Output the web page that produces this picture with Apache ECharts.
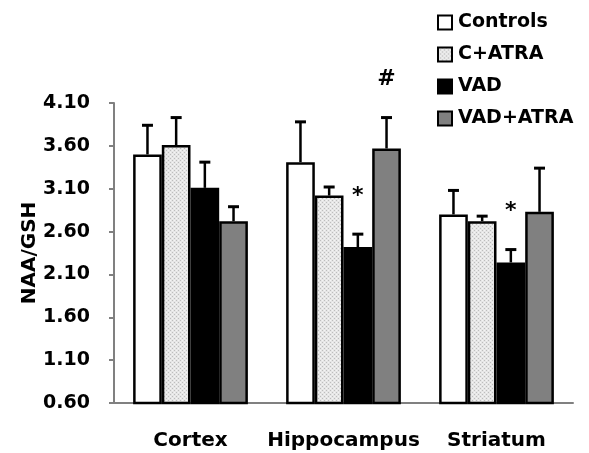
<!DOCTYPE html>
<html>
<head>
<meta charset="utf-8">
<script src="https://cdn.jsdelivr.net/npm/echarts@6/dist/echarts.min.js"></script>
<style>
  html, body { margin: 0; padding: 0; background: #fff; }
  #chart { width: 589px; height: 453px; }
</style>
</head>
<body>
<div id="chart"></div>
<script>
const regions = ['Cortex', 'Hippocampus', 'Striatum']
const groups = ['Controls', 'C+ATRA', 'VAD', 'VAD+ATRA']

// mean values per group (Cortex, Hippocampus, Striatum)
const controls = [3.50, 3.41, 2.80]
const cAtra = [3.61, 3.02, 2.72]
const vad = [3.11, 2.42, 2.24]
const vadAtra = [2.72, 3.57, 2.83]

// upper error bar length
const controlsErr = [0.34, 0.47, 0.28]
const cAtraErr = [0.32, 0.10, 0.06]
const vadErr = [0.30, 0.15, 0.15]
const vadAtraErr = [0.17, 0.36, 0.51]

const yTicks = [0.60, 1.10, 1.60, 2.10, 2.60, 3.10, 3.60, 4.10]

// significance marks: [region index, group index, symbol]
const marks = [
  [1, 2, '*'],
  [1, 3, '#'],
  [2, 2, '*']
]

const FONT = 'DejaVu Sans'

// light dotted fill for C+ATRA
function dotPattern() {
  const c = document.createElement('canvas')
  c.width = 4
  c.height = 4
  const ctx = c.getContext('2d')
  ctx.fillStyle = '#e6e6e6'
  ctx.fillRect(0, 0, 4, 4)
  ctx.fillStyle = '#bdbdbd'
  ctx.fillRect(0, 0, 1, 1)
  ctx.fillRect(2, 2, 1, 1)
  ctx.fillStyle = '#f4f4f4'
  ctx.fillRect(2, 0, 1, 1)
  ctx.fillRect(0, 2, 1, 1)
  return { image: c, repeat: 'repeat' }
}

const fills = ['#ffffff', dotPattern(), '#000000', '#808080']
const means = [controls, cAtra, vad, vadAtra]
const errs = [controlsErr, cAtraErr, vadErr, vadAtraErr]
const catGap = 0.25

function barOffset(api, gi) {
  const catW = api.size([1, 0])[0]
  const barW = catW * (1 - catGap) / groups.length
  return { x: (gi - (groups.length - 1) / 2) * barW, w: barW }
}

const barSeries = groups.map((name, gi) => ({
  name,
  type: 'bar',
  data: means[gi],
  barGap: '0%',
  barCategoryGap: catGap * 100 + '%',
  itemStyle: { color: fills[gi], borderColor: '#000', borderWidth: 2.5 },
  z: 2
}))

const errSeries = groups.map((name, gi) => ({
  type: 'custom',
  name: name + ' err',
  data: regions.map((r, ri) => [ri, means[gi][ri], errs[gi][ri]]),
  z: 3,
  silent: true,
  renderItem(params, api) {
    const off = barOffset(api, gi)
    const base = api.coord([api.value(0), api.value(1)])
    const top = api.coord([api.value(0), api.value(1) + api.value(2)])
    const x = base[0] + off.x
    return {
      type: 'group',
      children: [
        { type: 'line', shape: { x1: x, y1: base[1], x2: x, y2: top[1] }, style: { stroke: '#000', lineWidth: 2.5 } },
        { type: 'line', shape: { x1: x - 5.5, y1: top[1], x2: x + 5.5, y2: top[1] }, style: { stroke: '#000', lineWidth: 3 } }
      ]
    }
  }
}))

const markSeries = {
  type: 'custom',
  name: 'marks',
  data: marks.map(m => [m[0], means[m[1]][m[0]] + errs[m[1]][m[0]], m[1], m[2]]),
  z: 4,
  silent: true,
  renderItem(params, api) {
    const m = marks[params.dataIndex]
    const off = barOffset(api, m[1])
    const top = api.coord([api.value(0), api.value(1)])
    return {
      type: 'text',
      style: {
        x: top[0] + off.x,
        y: top[1] - 38,
        text: m[2],
        fill: '#000',
        font: 'bold 22px "' + FONT + '"',
        align: 'center',
        verticalAlign: 'middle'
      }
    }
  }
}

const chart = echarts.init(document.getElementById('chart'), null, { renderer: 'canvas' })
chart.setOption({
  animation: false,
  backgroundColor: '#fff',
  textStyle: { fontFamily: FONT },
  grid: { left: 114, right: 16, top: 103, bottom: 50, containLabel: false },
  legend: {
    data: groups,
    orient: 'vertical',
    left: 432,
    top: 8,
    itemWidth: 14,
    itemHeight: 14,
    itemGap: 13,
    icon: 'rect',
    textStyle: { fontFamily: FONT, fontWeight: 'bold', fontSize: 19, color: '#000', padding: [0, 0, 0, 1] }
  },
  xAxis: {
    type: 'category',
    data: regions,
    axisLine: { lineStyle: { color: '#808080', width: 2 } },
    axisTick: { length: 8, lineStyle: { color: '#808080', width: 2 } },
    axisLabel: { interval: 0, hideOverlap: false, margin: 28, fontFamily: FONT, fontWeight: 'bold', fontSize: 20, color: '#000' }
  },
  yAxis: {
    type: 'value',
    name: 'NAA/GSH',
    nameLocation: 'middle',
    nameGap: 74,
    nameMoveOverlap: false,
    nameTextStyle: { fontFamily: FONT, fontWeight: 'bold', fontSize: 20, color: '#000' },
    min: yTicks[0],
    max: yTicks[yTicks.length - 1],
    interval: 0.5,
    splitLine: { show: false },
    axisLine: { show: true, lineStyle: { color: '#808080', width: 2 } },
    axisTick: { show: true, length: 5, lineStyle: { color: '#808080', width: 2 } },
    axisLabel: {
      margin: 24,
      fontFamily: FONT,
      fontWeight: 'bold',
      fontSize: 19,
      color: '#000',
      formatter: v => Number(v).toFixed(2)
    }
  },
  series: [...barSeries, ...errSeries, markSeries]
})
</script>
</body>
</html>
